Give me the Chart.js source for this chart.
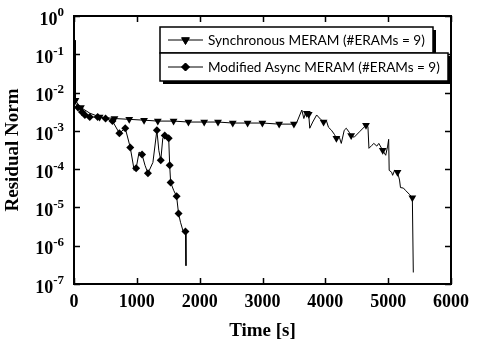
<!DOCTYPE html>
<html>
<head>
<meta charset="utf-8">
<script src="https://cdn.jsdelivr.net/npm/chart.js@4/dist/chart.umd.min.js"></script>
<style>
  html, body { margin: 0; padding: 0; background: #fff; }
  #wrap { width: 477px; height: 342px; position: relative; }
</style>
</head>
<body>
<div id="wrap"><canvas id="c" width="477" height="342"></canvas></div>
<script>
// ---------- data ----------
const xTickValues = [0, 1000, 2000, 3000, 4000, 5000, 6000];
const yDecades = [0, -1, -2, -3, -4, -5, -6, -7];

const syncLabel = "Synchronous MERAM (#ERAMs = 9)";
const syncTime = [22, 24, 63, 110, 173, 251, 408, 644, 879, 1115, 1334, 1585, 1821, 2072, 2292, 2527, 2763, 2998, 3265, 3500,
  3548, 3626, 3658, 3689, 3705, 3736, 3752, 3799, 3862, 3925, 3972, 4019, 4050, 4097, 4144, 4176, 4223, 4254, 4301, 4333,
  4380, 4411, 4458, 4553, 4647, 4678, 4694, 4741, 4772, 4819, 4851, 4914, 4961, 4992, 5008, 5016, 5055, 5071, 5102, 5149,
  5181, 5196, 5243, 5275, 5338, 5385, 5400];
const syncValue = [0.23, 6.3e-3, 5.0e-3, 4.1e-3, 3.5e-3, 2.9e-3, 2.3e-3, 2.1e-3, 2.0e-3, 1.9e-3, 1.8e-3, 1.8e-3, 1.7e-3, 1.7e-3, 1.7e-3, 1.6e-3, 1.6e-3, 1.6e-3, 1.5e-3, 1.5e-3,
  1.7e-3, 3.5e-3, 2.1e-3, 3.1e-3, 2.9e-3, 2.7e-3, 1.17e-3, 1.7e-3, 2.6e-3, 2.0e-3, 1.7e-3, 1.8e-3, 1.24e-3, 1.04e-3, 8.1e-4, 6.4e-4, 6.8e-4, 4.7e-4, 1.04e-3, 1.17e-3,
  9.2e-4, 7.6e-4, 6.8e-4, 9.8e-4, 1.4e-3, 1.3e-3, 3.5e-4, 4.2e-4, 4.7e-4, 4.0e-4, 4.7e-4, 3.1e-4, 2.3e-4, 4.0e-4, 6.0e-4, 9.3e-5, 8.3e-5, 6.9e-5, 9.3e-5, 8.3e-5,
  5.2e-5, 3.3e-5, 3.2e-5, 2.8e-5, 2.2e-5, 1.8e-5, 2.0e-7];
const syncMarked = [1, 3, 6, 7, 8, 9, 10, 11, 12, 13, 14, 15, 16, 17, 18, 19, 24, 25, 30, 35, 41, 44, 51, 59, 65];

const asyncLabel = "Modified Async MERAM (#ERAMs = 9)";
const asyncTime = [0, 31, 63, 94, 126, 173, 251, 377, 502, 612, 722, 816, 895, 958, 989, 1036, 1083, 1130, 1177, 1256,
  1319, 1350, 1381, 1413, 1444, 1507, 1523, 1538, 1586, 1633, 1664, 1695, 1743, 1774, 1782];
const asyncValue = [6.3e-3, 5.0e-3, 4.1e-3, 3.7e-3, 3.1e-3, 2.6e-3, 2.3e-3, 2.3e-3, 2.1e-3, 1.8e-3, 8.7e-4, 1.17e-3, 3.7e-4, 9.3e-5, 1.05e-4, 2.8e-4, 2.4e-4, 1.26e-4, 7.8e-5, 1.5e-4,
  1.04e-3, 3.1e-4, 1.7e-4, 6.4e-4, 7.6e-4, 6.4e-4, 1.26e-4, 4.5e-5, 2.8e-5, 1.95e-5, 6.9e-6, 4.1e-6, 2.2e-6, 2.35e-6, 3.0e-7];
const asyncMarked = [0, 2, 4, 5, 6, 7, 8, 9, 10, 11, 12, 14, 16, 18, 20, 22, 24, 25, 26, 27, 29, 30, 33];

// ---------- helpers ----------
const toPoints = (xs, ys) => xs.map((x, i) => ({ x: x, y: ys[i] }));
const serif = "'Liberation Serif', 'Times New Roman', serif";
const sans = "Lato, 'Noto Sans', sans-serif";

const decorPlugin = {
  id: 'decor',
  afterDraw(chart) {
    const ctx = chart.ctx;
    const a = chart.chartArea;
    const xs = chart.scales.x, ys = chart.scales.y;
    ctx.save();
    // inward ticks
    ctx.strokeStyle = '#000';
    ctx.lineWidth = 1.5;
    ctx.beginPath();
    xTickValues.forEach(v => {
      const px = Math.round(xs.getPixelForValue(v)) + 0.5;
      ctx.moveTo(px, a.bottom); ctx.lineTo(px, a.bottom - 6);
      ctx.moveTo(px, a.top); ctx.lineTo(px, a.top + 6);
    });
    yDecades.forEach(d => {
      const py = Math.round(ys.getPixelForValue(Math.pow(10, d))) + 0.5;
      ctx.moveTo(a.left, py); ctx.lineTo(a.left + 6, py);
      ctx.moveTo(a.right, py); ctx.lineTo(a.right - 6, py);
    });
    ctx.stroke();
    // frame
    ctx.lineWidth = 2;
    ctx.strokeRect(a.left, a.top, a.right - a.left, a.bottom - a.top);
    // y tick labels 10^k
    ctx.fillStyle = '#000';
    yDecades.forEach(d => {
      const py = ys.getPixelForValue(Math.pow(10, d));
      const sup = String(d);
      ctx.font = 'bold 13px ' + serif;
      const sw = ctx.measureText(sup).width;
      ctx.font = 'bold 18px ' + serif;
      const bw = ctx.measureText('10').width;
      const right = 64;
      ctx.textBaseline = 'middle';
      ctx.textAlign = 'left';
      ctx.fillText('10', right - sw - bw, py + 4);
      ctx.font = 'bold 13px ' + serif;
      ctx.fillText(sup, right - sw, py - 3);
    });
    // legend
    const rows = [
      { label: syncLabel, style: 'triangle', rot: 180, r: 4.5, top: 27, bottom: 53, right: 433 },
      { label: asyncLabel, style: 'rectRot', rot: 0, r: 4, top: 53, bottom: 81, right: 448 }
    ];
    const left = 160;
    rows.forEach(rw => {
      ctx.fillStyle = '#000';
      ctx.fillRect(left + 3, rw.top + 3, rw.right - left, rw.bottom - rw.top);
      ctx.fillStyle = '#fff';
      ctx.fillRect(left, rw.top, rw.right - left, rw.bottom - rw.top);
      ctx.strokeStyle = '#000';
      ctx.lineWidth = 1.5;
      ctx.strokeRect(left, rw.top, rw.right - left, rw.bottom - rw.top);
    });
    rows.forEach(rw => {
      const cy = (rw.top + rw.bottom) / 2;
      ctx.strokeStyle = '#000';
      ctx.lineWidth = 1;
      ctx.beginPath();
      ctx.moveTo(168, cy); ctx.lineTo(203, cy);
      ctx.stroke();
      ctx.fillStyle = '#000';
      Chart.helpers.drawPoint(ctx, { pointStyle: rw.style, rotation: rw.rot, radius: rw.r, borderWidth: 1 }, 185.5, cy);
      ctx.fill();
      ctx.font = '14px ' + sans;
      ctx.textAlign = 'left';
      ctx.textBaseline = 'middle';
      const target = rw.right - 8 - 208;
      const w = ctx.measureText(rw.label).width;
      const size = Math.min(16, 14 * target / w);
      ctx.font = size.toFixed(2) + 'px ' + sans;
      ctx.fillText(rw.label, 208, cy + 1);
    });
    ctx.restore();
  }
};

const markerRadius = (marked, r) => ctx => marked.includes(ctx.dataIndex) ? r : 0;

new Chart(document.getElementById('c'), {
  type: 'line',
  data: {
    datasets: [
      {
        label: syncLabel,
        data: toPoints(syncTime, syncValue),
        borderColor: '#000', backgroundColor: '#000',
        borderWidth: 1,
        pointStyle: 'triangle', rotation: 180,
        pointRadius: markerRadius(syncMarked, 4.5),
        pointBorderWidth: 0,
        tension: 0
      },
      {
        label: asyncLabel,
        data: toPoints(asyncTime, asyncValue),
        borderColor: '#000', backgroundColor: '#000',
        borderWidth: 1,
        pointStyle: 'rectRot',
        pointRadius: markerRadius(asyncMarked, 4),
        pointBorderWidth: 0,
        tension: 0
      }
    ]
  },
  options: {
    responsive: false,
    animation: false,
    events: [],
    layout: { padding: { top: 16, right: 21, left: 0, bottom: 0 } },
    plugins: { legend: { display: false }, tooltip: { enabled: false } },
    scales: {
      x: {
        type: 'linear', min: 0, max: 6000,
        afterBuildTicks(scale) { scale.ticks = xTickValues.map(v => ({ value: v })); },
        afterFit(scale) { scale.height = 58; },
        grid: { display: false, drawTicks: false },
        border: { display: false },
        ticks: { color: '#000', font: { family: serif, size: 18, weight: 'bold' }, padding: 8, maxRotation: 0, autoSkip: false,
                 callback: v => String(v) },
        title: { display: true, text: 'Time [s]', color: '#000', font: { family: serif, size: 19, weight: 'bold' }, padding: { top: 2, bottom: 0 } }
      },
      y: {
        type: 'logarithmic', min: 1e-7, max: 1,
        afterFit(scale) { scale.width = 74; },
        grid: { display: false, drawTicks: false },
        border: { display: false },
        ticks: { display: false },
        title: { display: true, text: 'Residual Norm', color: '#000', font: { family: serif, size: 19, weight: 'bold' }, padding: { top: 2, bottom: 0 } }
      }
    }
  },
  plugins: [decorPlugin]
});
</script>
</body>
</html>
